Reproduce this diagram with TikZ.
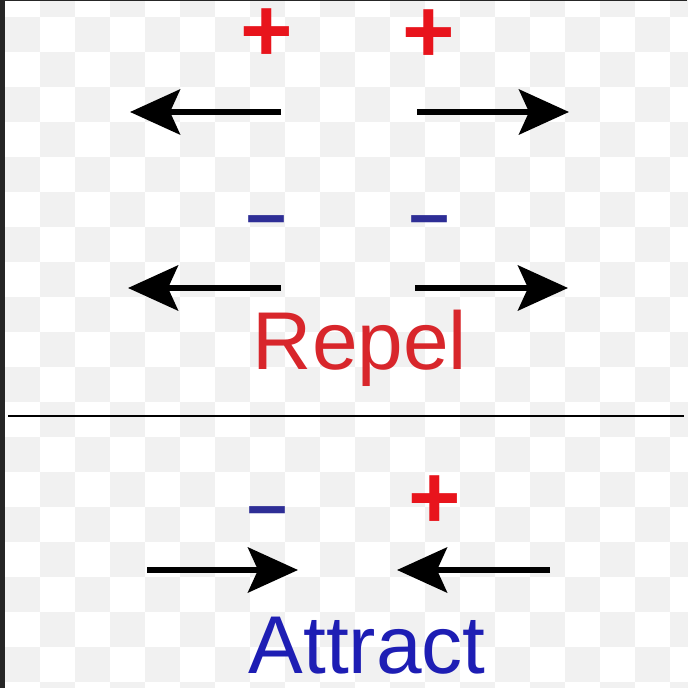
\documentclass[tikz,border=0pt]{standalone}
\usepackage{fontspec}
\setmainfont{Liberation Sans}
\usetikzlibrary{arrows.meta}
\definecolor{chargered}{HTML}{E8141C}
\definecolor{repelred}{HTML}{D8262B}
\definecolor{chargeblue}{HTML}{2E2E96}
\definecolor{attractblue}{HTML}{1E1EB4}
\definecolor{checkgray}{HTML}{F1F1F1}

\begin{document}
\begin{tikzpicture}[
  x=0.5pt,y=-0.5pt,
  force/.style={line width=3pt,-{Stealth[length=25pt,width=22.5pt,inset=5pt]}},
  plus/.style={text=chargered,font=\fontsize{45}{45}\selectfont\bfseries,inner sep=0pt},
  minus/.style={text=chargeblue,font=\fontsize{36}{36}\selectfont\bfseries,inner sep=0pt,anchor=base},
  word/.style={font=\fontsize{41}{41}\selectfont,inner sep=0pt,anchor=base},
]
\useasboundingbox (0,0) rectangle (687,688);
% checkered background
\fill[white] (0,0) rectangle (687,688);
\foreach \i in {0,...,19}
  \foreach \j in {0,...,20}{
    \pgfmathparse{int(mod(\i+\j,2))}
    \ifnum\pgfmathresult=1
      \fill[checkgray] (5+35*\i,-18+35*\j) rectangle ++(35,35);
    \fi
  }
\fill[black!85] (0,0) rectangle (5,688);
\fill[black!85] (0,0) rectangle (687,1.5);

% repel: like charges
\node[plus] (plusL) at (267,35) {+};
\node[plus] (plusR) at (429,36) {+};
\coordinate (topLs) at (281,112);
\coordinate (topLt) at (130,112);
\coordinate (topRs) at (417,112);
\coordinate (topRt) at (569,112);
\draw[force] (topLs) -- (topLt);
\draw[force] (topRs) -- (topRt);

\node[minus] (minusL) at (267,239) {–};
\node[minus] (minusR) at (430,239) {–};
\coordinate (midLs) at (281,288);
\coordinate (midLt) at (128,288);
\coordinate (midRs) at (415,288);
\coordinate (midRt) at (568,288);
\draw[force] (midLs) -- (midLt);
\draw[force] (midRs) -- (midRt);

\node[word,text=repelred] (repel) at (360,370) {Repel};

% divider
\coordinate (sepL) at (8,416);
\coordinate (sepR) at (684,416);
\draw[line width=1.3pt] (sepL) -- (sepR);

% attract: unlike charges
\node[minus] (minusA) at (268,529) {–};
\node[plus] (plusA) at (435,502) {+};
\coordinate (botLs) at (147,570);
\coordinate (botLt) at (298,570);
\coordinate (botRs) at (550,570);
\coordinate (botRt) at (397,570);
\draw[force] (botLs) -- (botLt);
\draw[force] (botRs) -- (botRt);

\node[word,text=attractblue] (attract) at (367,673) {Attract};
\end{tikzpicture}
\end{document}
